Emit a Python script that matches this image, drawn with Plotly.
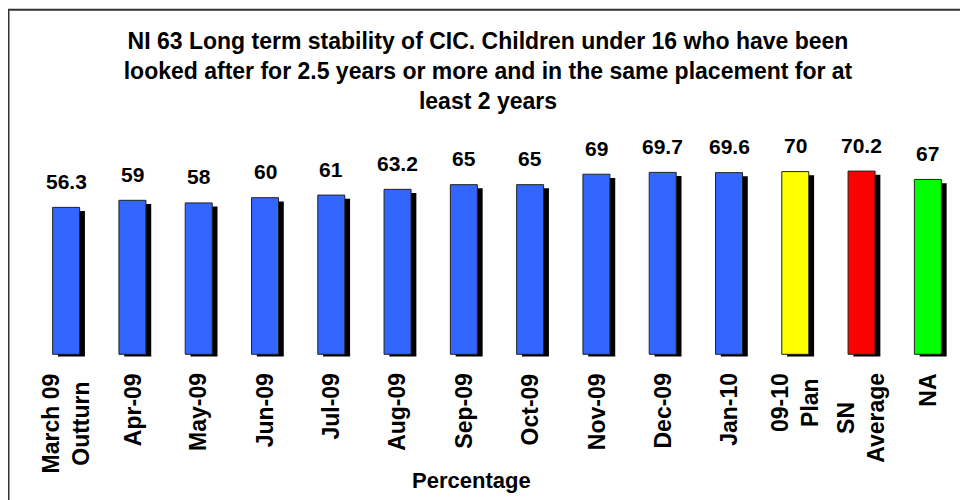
import plotly.graph_objects as go

# ---- data ----
categories = ["March 09<br>Outturn", "Apr-09", "May-09", "Jun-09", "Jul-09", "Aug-09",
              "Sep-09", "Oct-09", "Nov-09", "Dec-09", "Jan-10", "09-10<br>Plan",
              "SN<br>Average", "NA"]
values = [56.3, 59, 58, 60, 61, 63.2, 65, 65, 69, 69.7, 69.6, 70, 70.2, 67]
bar_colors = ["#3366FF"] * 11 + ["#FFFF00", "#FF0000", "#00FF00"]

title_text = ("NI 63 Long term stability of CIC. Children under 16 who have been<br>"
              "looked after for 2.5 years or more and in the same placement for at<br>"
              "least 2 years")
x_title = "Percentage"

# ---- layout geometry (figure sits 8px inside the page because of the body margin) ----
W, H = 960, 492
L, R, T, B = 25, 7, 122, 142
plot_w = W - L - R
plot_h = H - T - B
px_per_unit = 2.61
y_min = -3.7 / px_per_unit
y_max = y_min + plot_h / px_per_unit

cat_px = plot_w / len(categories)
bar_w = 27 / cat_px
shadow_dx = 5.3 / cat_px
shadow_base = -2.3 / px_per_unit
shadow_drop = 3.7 / px_per_unit

FONT = "Liberation Sans, Arial, sans-serif"

fig = go.Figure()

# shadow
fig.add_trace(go.Bar(
    x=categories,
    y=[v - shadow_drop - shadow_base for v in values],
    base=shadow_base,
    width=bar_w,
    offset=-bar_w / 2 + shadow_dx,
    marker=dict(color="#000000", line=dict(width=0)),
    hoverinfo="skip",
    showlegend=False,
))

# bars
fig.add_trace(go.Bar(
    x=categories,
    y=values,
    width=bar_w,
    offset=-bar_w / 2,
    marker=dict(color=bar_colors, line=dict(color="#222222", width=1)),
    showlegend=False,
))

# value labels
for c, v in zip(categories, values):
    fig.add_annotation(
        x=c, y=v, xref="x", yref="y",
        text=f"{v:g}", showarrow=False,
        yanchor="middle", yshift=26,
        font=dict(family=FONT, size=21, color="#000000", weight="bold"),
    )

# category labels (rotated, lines centred like the original)
for c in categories:
    fig.add_annotation(
        x=c, y=0, xref="x", yref="y",
        text=c, showarrow=False, textangle=-90,
        xanchor="center", yanchor="top", align="center",
        yshift=-17,
        font=dict(family=FONT, size=23, color="#000000", weight="bold"),
    )

# x-axis title
fig.add_annotation(
    x=(463 - L) / plot_w, y=(H - B - 472) / plot_h,
    xref="paper", yref="paper",
    text=x_title, showarrow=False,
    xanchor="center", yanchor="middle",
    font=dict(family=FONT, size=22, color="#000000", weight="bold"),
)

# outer frame (extends past right and bottom edges)
fig.add_shape(
    type="rect", xref="paper", yref="paper",
    x0=(0.5 - L) / plot_w, x1=(W + 20 - L) / plot_w,
    y0=(H - B - (H + 20)) / plot_h, y1=(H - B - 1.7) / plot_h,
    line=dict(color="#333333", width=2),
    fillcolor="rgba(0,0,0,0)",
    layer="above",
)

fig.update_layout(
    width=W, height=H,
    margin=dict(l=L, r=R, t=T, b=B),
    paper_bgcolor="#FFFFFF",
    plot_bgcolor="#FFFFFF",
    barmode="overlay",
    title=dict(
        text=title_text,
        x=0.5, xref="container", xanchor="center",
        y=1 - 41 / H, yref="container", yanchor="top",
        font=dict(family=FONT, size=23, color="#000000", weight="bold"),
    ),
    xaxis=dict(
        type="category",
        showticklabels=False,
        showline=False, showgrid=False, zeroline=False,
        ticks="",
    ),
    yaxis=dict(
        visible=False,
        range=[y_min, y_max],
        showgrid=False, zeroline=False,
    ),
)

fig.write_html("out.html")
